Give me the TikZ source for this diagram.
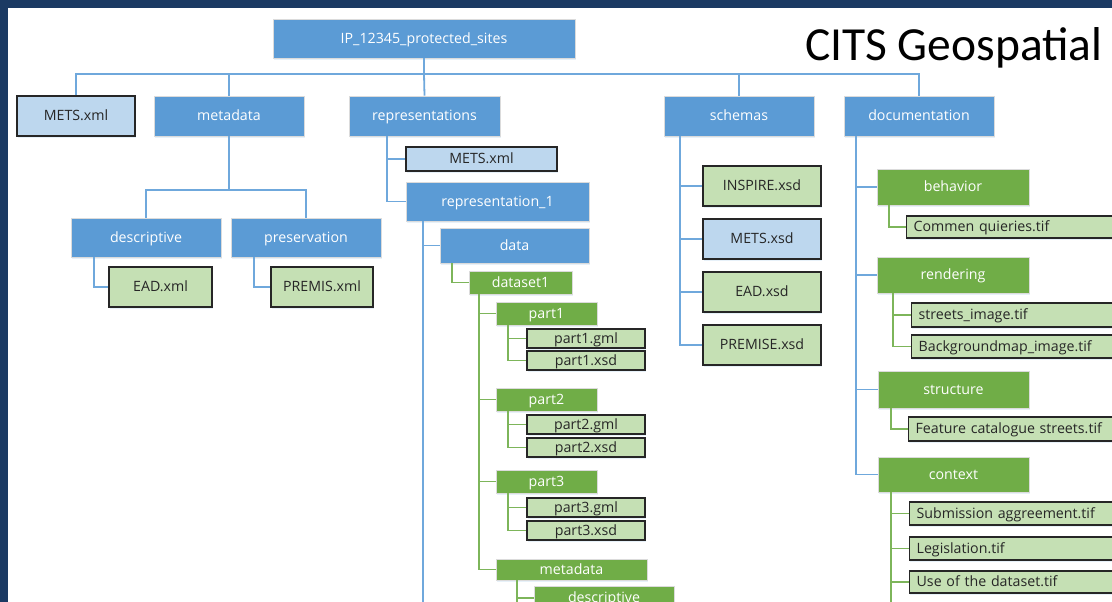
\documentclass[tikz,border=0pt]{standalone}
\usepackage{fontspec}
\setmainfont{Open Sans}
\newfontfamily\titlefont{Carlito}
\usetikzlibrary{shadows}

\definecolor{navy}{HTML}{1B3A63}
\definecolor{boxblue}{HTML}{5B9BD5}
\definecolor{paleblue}{HTML}{BDD7EE}
\definecolor{boxgreen}{HTML}{70AD47}
\definecolor{palegreen}{HTML}{C5E0B4}
\definecolor{linkblue}{HTML}{6FA8DC}
\definecolor{linkgreen}{HTML}{7DB55A}
\definecolor{edgedark}{HTML}{262626}

\tikzset{
  every node/.style={font=\fontsize{14.2}{17}\selectfont, inner sep=0pt,
    text height=12pt, text depth=2.5pt},
  wh/.style 2 args={minimum width=#1, minimum height=#2},
  soft/.style={drop shadow={shadow xshift=0.6pt, shadow yshift=-1.6pt,
    fill=boxblue!40, opacity=0.35}},
  folder/.style={rectangle, soft, fill=boxblue, draw=white!72!gray,
    line width=0.6pt, text=white},
  group/.style={rectangle, soft, fill=boxgreen, draw=white!72!gray,
    line width=0.6pt, text=white},
  xmlfile/.style={rectangle, soft, fill=paleblue, draw=edgedark,
    line width=1.3pt, text=black!85},
  datafile/.style={rectangle, soft, fill=palegreen, draw=edgedark,
    line width=1.3pt, text=black!85},
  docfile/.style={datafile, anchor=west, align=left, inner xsep=7pt,
    minimum width=230, text width=216pt},
  bl/.style={draw=linkblue, line width=1.8pt},
  gl/.style={draw=linkgreen, line width=1.5pt},
}

\begin{document}
\begin{tikzpicture}[x=1pt, y=-1pt]
\useasboundingbox (0,0) rectangle (1112,602);
\clip (0,0) rectangle (1112,602);
\fill[white] (0,0) rectangle (1112,602);

% ---------- package root and top level ----------
\node[folder, wh={302}{39}] (root) at (424,38.5) {IP\_12345\_protected\_sites};
\node[xmlfile, wh={118}{40}] (mets) at (76,116) {METS.xml};
\node[folder, wh={150}{40}] (meta) at (229,116) {metadata};
\node[folder, wh={151}{40}] (reps) at (424.5,116) {representations};
\node[folder, wh={150}{40}] (schemas) at (739,116) {schemas};
\node[folder, wh={150}{40}] (docs) at (919,116) {documentation};

\node[anchor=base west, font=\titlefont\fontsize{47.5}{50}\selectfont,
  text height=, text depth=] (title) at (805,61) {CITS Geospatial};

\coordinate (bus) at (424,74);
\draw[bl] (root.south) -- (bus);
\draw[bl] (mets.north) |- (bus) -| (docs.north);
\draw[bl] (meta.north) -- (meta.north |- bus);
\draw[bl] (reps.north) -- (bus);
\draw[bl] (schemas.north) -- (schemas.north |- bus);

% ---------- metadata ----------
\node[folder, wh={150}{39}] (desc) at (146,237.5) {descriptive};
\node[folder, wh={150}{39}] (pres) at (306,237.5) {preservation};
\node[datafile, wh={103}{40}] (ead) at (160.5,287) {EAD.xml};
\node[datafile, wh={102}{40}] (premis) at (322,287) {PREMIS.xml};

\coordinate (metaJ) at (229,190);
\draw[bl] (meta.south) -- (metaJ);
\draw[bl] (desc.north) |- (metaJ) -| (pres.north);
\coordinate (descT) at (94,257);
\coordinate (presT) at (254,257);
\draw[bl] (descT) |- (ead.west);
\draw[bl] (presT) |- (premis.west);

% ---------- representations ----------
\node[xmlfile, wh={151}{24}] (rmets) at (481.5,159) {METS.xml};
\node[folder, wh={183}{39}] (rep1) at (497.5,201.5) {representation\_1};
\node[folder, wh={149}{35}] (data) at (514.5,245.5) {data};
\node[group, wh={103}{23}] (dataset1) at (520.5,282.5) {dataset1};
\node[group, wh={101}{23}] (part1) at (546.5,313.5) {part1};
\node[datafile, wh={118}{19}] (p1gml) at (586,338.5) {part1.gml};
\node[datafile, wh={118}{19}] (p1xsd) at (586,360.5) {part1.xsd};
\node[group, wh={101}{23}] (part2) at (546.5,399.5) {part2};
\node[datafile, wh={118}{19}] (p2gml) at (586,424.5) {part2.gml};
\node[datafile, wh={118}{19}] (p2xsd) at (586,447.5) {part2.xsd};
\node[group, wh={101}{23}] (part3) at (546.5,481.5) {part3};
\node[datafile, wh={118}{19}] (p3gml) at (586,507.5) {part3.gml};
\node[datafile, wh={118}{19}] (p3xsd) at (586,530.5) {part3.xsd};
\node[group, wh={151}{21}] (gmeta) at (571.5,569.5) {metadata};
\node[group, wh={140}{24}] (gdesc) at (604,598) {descriptive};

\coordinate (repsT) at (387,136);
\draw[bl] (repsT) |- (rmets.west);
\draw[bl] (repsT) |- (rep1.west);
\coordinate (rep1T) at (423,221);
\coordinate (rep1E) at (423,612);
\draw[bl] (rep1T) -- (rep1E);
\draw[bl] (rep1T) |- (data.west);
\coordinate (dataT) at (452,263);
\draw[gl] (dataT) |- (dataset1.west);
\coordinate (dsT) at (479,294);
\draw[gl] (dsT) |- (part1.west);
\draw[gl] (dsT) |- (part2.west);
\draw[gl] (dsT) |- (part3.west);
\draw[gl] (dsT) |- (gmeta.west);
\coordinate (p1T) at (508,325);
\draw[gl] (p1T) |- (p1gml.west);
\draw[gl] (p1T) |- (p1xsd.west);
\coordinate (p2T) at (508,411);
\draw[gl] (p2T) |- (p2gml.west);
\draw[gl] (p2T) |- (p2xsd.west);
\coordinate (p3T) at (508,493);
\draw[gl] (p3T) |- (p3gml.west);
\draw[gl] (p3T) |- (p3xsd.west);
\coordinate (gmT) at (517,580);
\coordinate (gmE) at (517,612);
\draw[gl] (gmT) -- (gmE);
\draw[gl] (gmT) |- (gdesc.west);

% ---------- schemas ----------
\node[datafile, wh={118}{40}] (inspire) at (762,186) {INSPIRE.xsd};
\node[xmlfile, wh={118}{40}] (smets) at (762,239) {METS.xsd};
\node[datafile, wh={118}{40}] (sead) at (762,292) {EAD.xsd};
\node[datafile, wh={118}{40}] (spremise) at (762,345) {PREMISE.xsd};

\coordinate (schT) at (680,136);
\draw[bl] (schT) |- (inspire.west);
\draw[bl] (schT) |- (smets.west);
\draw[bl] (schT) |- (sead.west);
\draw[bl] (schT) |- (spremise.west);

% ---------- documentation ----------
\node[group, wh={152}{36}] (behavior) at (953,187) {behavior};
\node[docfile, minimum height=22] (commen) at (906,227) {Commen quieries.tif};
\node[group, wh={152}{36}] (rendering) at (953,275) {rendering};
\node[docfile, minimum height=24] (streets) at (911,315) {streets\_image.tif};
\node[docfile, minimum height=23] (bgmap) at (911,346.5) {Backgroundmap\_image.tif};
\node[group, wh={151}{37}] (structure) at (953.5,389.5) {structure};
\node[docfile, minimum height=24] (feature) at (908,429) {Feature catalogue streets.tif};
\node[group, wh={151}{35}] (context) at (953.5,474.5) {context};
\node[docfile, minimum height=23] (submission) at (909,513.5) {Submission aggreement.tif};
\node[docfile, minimum height=23] (legislation) at (909,548.5) {Legislation.tif};
\node[docfile, minimum height=22] (usedata) at (909,582) {Use of the dataset.tif};

\coordinate (docT) at (856,136);
\draw[bl] (docT) |- (behavior.west);
\draw[bl] (docT) |- (rendering.west);
\draw[bl] (docT) |- (structure.west);
\draw[bl] (docT) |- (context.west);
\coordinate (behT) at (889,205);
\draw[gl] (behT) |- (commen.west);
\coordinate (renT) at (893,293);
\draw[gl] (renT) |- (streets.west);
\draw[gl] (renT) |- (bgmap.west);
\coordinate (strT) at (891,408);
\draw[gl] (strT) |- (feature.west);
\coordinate (ctxT) at (891,492);
\coordinate (ctxE) at (891,612);
\draw[gl] (ctxT) -- (ctxE);
\draw[gl] (ctxT) |- (submission.west);
\draw[gl] (ctxT) |- (legislation.west);
\draw[gl] (ctxT) |- (usedata.west);

% ---------- slide frame ----------
\fill[navy] (0,0) rectangle (1112,8);
\fill[navy] (0,0) rectangle (8,602);
\end{tikzpicture}
\end{document}
